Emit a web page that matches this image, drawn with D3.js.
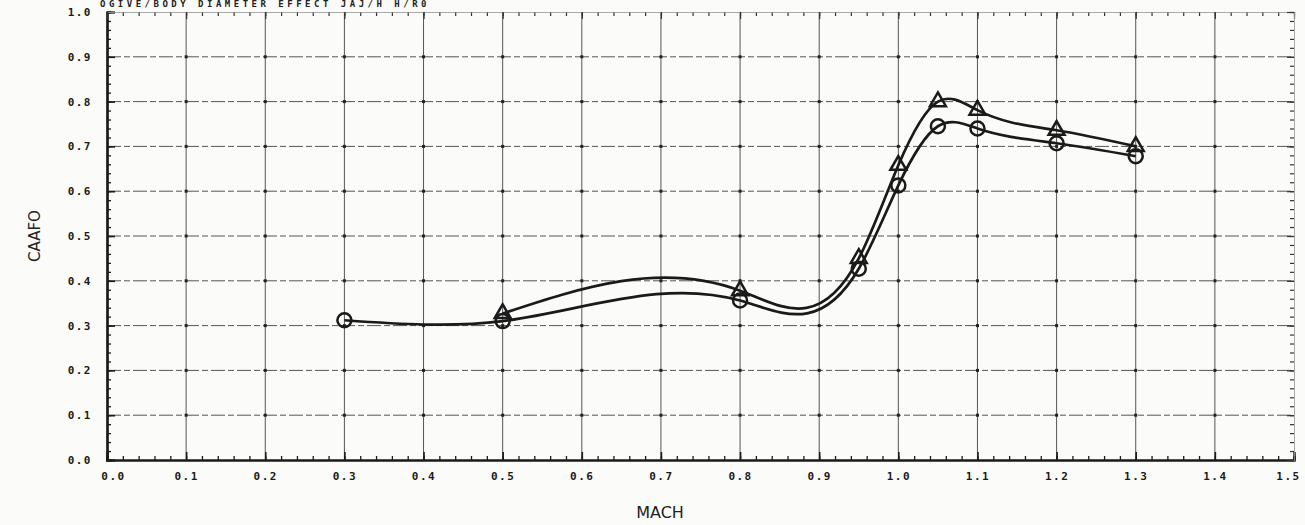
<!DOCTYPE html>
<html><head><meta charset="utf-8">
<script src="https://cdn.jsdelivr.net/npm/d3@7/dist/d3.min.js"></script>
<style>
html,body{margin:0;padding:0;background:#fbfbf9;}
svg{display:block;}
</style></head>
<body>
<svg id="chart" width="1305" height="525"></svg>
<script>
// ---- data ----
const titleText = "OGIVE/BODY DIAMETER EFFECT    JAJ/H H/R0";
const xLabel = "MACH";
const yLabel = "CAAFO";
const xTicks = [0.0,0.1,0.2,0.3,0.4,0.5,0.6,0.7,0.8,0.9,1.0,1.1,1.2,1.3,1.4,1.5];
const yTicks = [0.0,0.1,0.2,0.3,0.4,0.5,0.6,0.7,0.8,0.9,1.0];
const circleMach = [0.3, 0.5, 0.8, 0.95, 1.0, 1.05, 1.1, 1.2, 1.3];
const circleCA   = [0.312, 0.31, 0.356, 0.427, 0.613, 0.745, 0.740, 0.707, 0.678];
const triMach    = [0.5, 0.8, 0.95, 1.0, 1.05, 1.1, 1.2, 1.3];
const triCA      = [0.327, 0.378, 0.45, 0.658, 0.80, 0.781, 0.736, 0.70];

(function(){
const svg = d3.select("#chart");
const ink = "#1a1a1a";
const x = d3.scaleLinear().domain([0, 1.5]).range([107, 1294]);
const y = d3.scaleLinear().domain([0, 1]).range([460, 12]);

// natural cubic spline in x, as a d3 curve
function NaturalX(context){ this._context = context; }
NaturalX.prototype = {
  areaStart(){}, areaEnd(){},
  lineStart(){ this._x = []; this._y = []; },
  point(px, py){ this._x.push(+px); this._y.push(+py); },
  lineEnd(){
    const X = this._x, Y = this._y, n = X.length, c = this._context;
    if (!n) return;
    c.moveTo(X[0], Y[0]);
    if (n === 2) { c.lineTo(X[1], Y[1]); return; }
    const h = [], M = new Array(n).fill(0);
    for (let i = 0; i < n - 1; i++) h.push(X[i+1] - X[i]);
    const a = [], b = [], cc = [], d = [];
    for (let i = 1; i < n - 1; i++) {
      a.push(h[i-1]); b.push(2*(h[i-1]+h[i])); cc.push(h[i]);
      d.push(6*((Y[i+1]-Y[i])/h[i] - (Y[i]-Y[i-1])/h[i-1]));
    }
    const m = d.length;
    for (let i = 1; i < m; i++) {
      const w = a[i]/b[i-1];
      b[i] -= w*cc[i-1]; d[i] -= w*d[i-1];
    }
    const sol = new Array(m);
    sol[m-1] = d[m-1]/b[m-1];
    for (let i = m-2; i >= 0; i--) sol[i] = (d[i] - cc[i]*sol[i+1])/b[i];
    for (let i = 0; i < m; i++) M[i+1] = sol[i];
    for (let i = 0; i < n - 1; i++) {
      const s = (Y[i+1]-Y[i])/h[i];
      const m0 = s - h[i]*(2*M[i] + M[i+1])/6;
      const m1 = s + h[i]*(M[i] + 2*M[i+1])/6;
      c.bezierCurveTo(X[i] + h[i]/3, Y[i] + m0*h[i]/3,
                      X[i+1] - h[i]/3, Y[i+1] - m1*h[i]/3,
                      X[i+1], Y[i+1]);
    }
  }
};
const curveNaturalX = ctx => new NaturalX(ctx);

// ---- grid ----
const gridX = xTicks.filter(v => v > 0 && v < 1.5);
const gridY = yTicks.filter(v => v > 0 && v < 1.0);
const g = svg.append("g");
g.selectAll(".gy").data(gridY).join("line")
  .attr("x1", x(0)).attr("x2", x(1.5))
  .attr("y1", d => y(d)).attr("y2", d => y(d))
  .attr("stroke", "#555").attr("stroke-width", 1)
  .attr("stroke-dasharray", "14,3,6,3");
g.selectAll(".gx").data(gridX).join("line")
  .attr("x1", d => x(d)).attr("x2", d => x(d))
  .attr("y1", y(0)).attr("y2", y(1))
  .attr("stroke", "#555").attr("stroke-width", 1);
const pts = [];
gridX.forEach(a => gridY.forEach(b => pts.push([a, b])));
g.selectAll(".dot").data(pts).join("rect")
  .attr("x", d => x(d[0]) - 1.5).attr("y", d => y(d[1]) - 1.5)
  .attr("width", 3).attr("height", 3).attr("fill", "#222");

// ---- axes ----
const xMinor = d3.range(0, 76).map(i => i * 0.02);
const yMinor = d3.range(0, 51).map(i => i * 0.02);
const axB = d3.axisBottom(x).tickValues(xMinor).tickSize(-4).tickFormat("");
const axBM = d3.axisBottom(x).tickValues(xTicks).tickSize(-8).tickPadding(12).tickFormat(d3.format(".1f"));
const axL = d3.axisLeft(y).tickValues(yMinor).tickSize(-4).tickFormat("");
const axLM = d3.axisLeft(y).tickValues(yTicks).tickSize(-8).tickPadding(15).tickFormat(d3.format(".1f"));
const axT = d3.axisTop(x).tickValues(xMinor).tickSize(-4).tickFormat("");
const axTM = d3.axisTop(x).tickValues(xTicks).tickSize(-7).tickFormat("");
const axR = d3.axisRight(y).tickValues(yMinor).tickSize(-4).tickFormat("");
const axRM = d3.axisRight(y).tickValues(yTicks).tickSize(-7).tickFormat("");

function styleAxis(sel, w){
  sel.selectAll("line").attr("stroke", ink).attr("stroke-width", w);
  sel.selectAll("path").attr("stroke", ink).attr("stroke-width", 2.2);
  sel.selectAll("text").attr("fill", ink)
    .attr("font-family", "'DejaVu Sans Mono', monospace")
    .attr("font-weight", "bold").attr("font-size", 11)
    .attr("letter-spacing", 1.5);
}
styleAxis(svg.append("g").attr("transform", `translate(0,${y(0)})`).call(axB), 1.3);
const xLab = svg.append("g").attr("transform", `translate(0,${y(0)})`).call(axBM);
styleAxis(xLab, 1.6);
styleAxis(svg.append("g").attr("transform", `translate(${x(0)},0)`).call(axL), 1.3);
styleAxis(svg.append("g").attr("transform", `translate(${x(0)},0)`).call(axLM), 1.6);
const tA = svg.append("g").attr("transform", `translate(0,${y(1)})`).call(axT);
const tB = svg.append("g").attr("transform", `translate(0,${y(1)})`).call(axTM);
const rA = svg.append("g").attr("transform", `translate(${x(1.5)},0)`).call(axR);
const rB = svg.append("g").attr("transform", `translate(${x(1.5)},0)`).call(axRM);
[tA,tB,rA,rB].forEach(s => {
  s.selectAll("line").attr("stroke", "#333").attr("stroke-width", 1.2);
  s.selectAll("path").attr("stroke", "#999").attr("stroke-width", 0.6);
});
xLab.selectAll("text").filter(d => d === 0).attr("dx", 6);
xLab.selectAll("text").filter(d => d === 1.5).attr("dx", -6);

// ---- axis titles ----
svg.append("text").text(xLabel)
  .attr("x", 660).attr("y", 518).attr("text-anchor", "middle")
  .attr("font-family", "'DejaVu Sans', sans-serif").attr("font-size", 16).attr("fill", "#222");
svg.append("text").text(yLabel)
  .attr("transform", "translate(40,236) rotate(-90)").attr("text-anchor", "middle")
  .attr("font-family", "'DejaVu Sans', sans-serif").attr("font-size", 15).attr("fill", "#222");
svg.append("text").text(titleText)
  .attr("x", 100).attr("y", 7).attr("font-family", "'DejaVu Sans Mono', monospace")
  .attr("font-weight", "bold").attr("font-size", 9).attr("letter-spacing", 3.5)
  .attr("fill", "#222");

// ---- series ----
const line = d3.line().x(d => x(d[0])).y(d => y(d[1])).curve(curveNaturalX);
const circ = d3.zip(circleMach, circleCA);
const tri = d3.zip(triMach, triCA);
svg.append("path").datum(circ).attr("d", line)
  .attr("fill", "none").attr("stroke", ink).attr("stroke-width", 2.7);
svg.append("path").datum(tri).attr("d", line)
  .attr("fill", "none").attr("stroke", ink).attr("stroke-width", 2.7);
svg.selectAll(".cm").data(circ).join("circle")
  .attr("cx", d => x(d[0])).attr("cy", d => y(d[1])).attr("r", 7)
  .attr("fill", "none").attr("stroke", ink).attr("stroke-width", 2.5);
const triSym = d3.symbol().type(d3.symbolTriangle).size(110);
svg.selectAll(".tm").data(tri).join("path")
  .attr("transform", d => `translate(${x(d[0])},${y(d[1])})`)
  .attr("d", triSym)
  .attr("fill", "none").attr("stroke", ink).attr("stroke-width", 2.5);
})();
</script>
</body></html>
